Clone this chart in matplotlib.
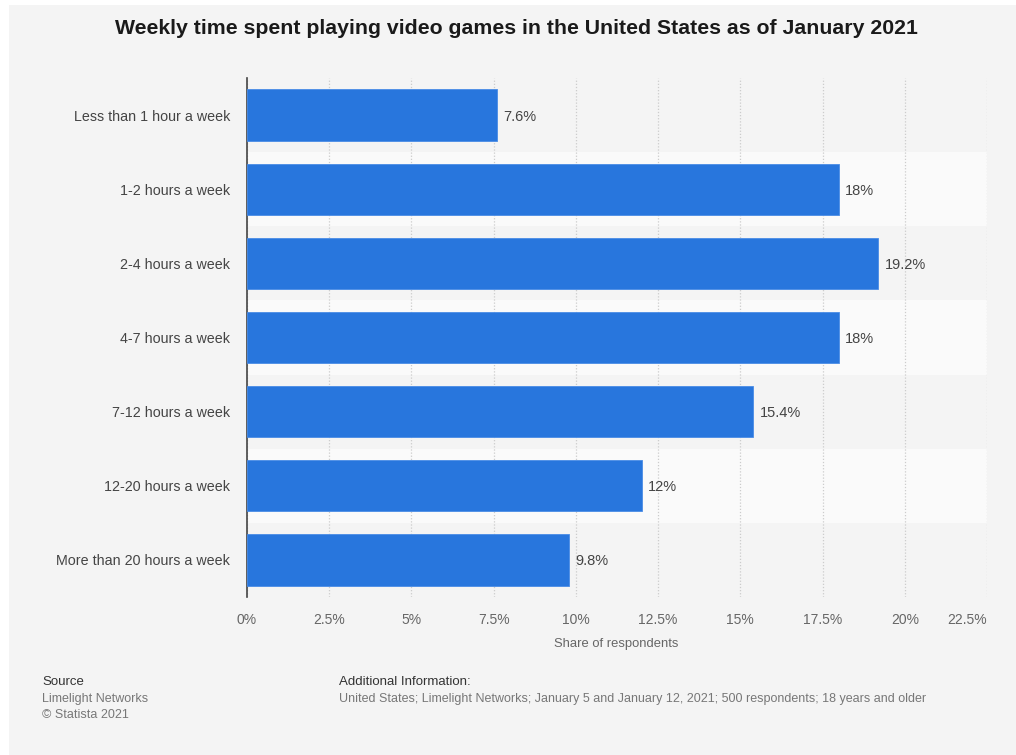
import matplotlib.pyplot as plt
from matplotlib.patches import Rectangle

# weekly hours spent gaming, share of respondents in %
categories = ["Less than 1 hour a week", "1-2 hours a week", "2-4 hours a week",
              "4-7 hours a week", "7-12 hours a week", "12-20 hours a week",
              "More than 20 hours a week"]
shares = [7.6, 18, 19.2, 18, 15.4, 12, 9.8]
tick_values = [0, 2.5, 5, 7.5, 10, 12.5, 15, 17.5, 20, 22.5]
tick_labels = ["0%", "2.5%", "5%", "7.5%", "10%", "12.5%", "15%", "17.5%", "20%", "22.5%"]

plt.rcParams['font.family'] = ['Liberation Sans', 'DejaVu Sans']

W, H = 1016, 755
fig = plt.figure(figsize=(W / 100, H / 100), dpi=100)
fig.patch.set_facecolor("white")
fig.patches.append(Rectangle((9 / W, 0), 1 - 9 / W, 1 - 5 / H, transform=fig.transFigure,
                             facecolor="#f4f4f4", edgecolor="none", zorder=-10))

ax = fig.add_axes([247 / W, 1 - 597 / H, 740 / W, 519 / H])
ax.set_facecolor("none")

n = len(categories)
ypos = list(range(n))

# alternating light bands behind the rows
for i in ypos:
    if i % 2 == 1:
        ax.axhspan(i - 0.5, i + 0.5, color="#fafafa", zorder=0, lw=0)

ax.barh(ypos, shares, height=0.69, color="#2876dd", edgecolor="#4a8ce6", linewidth=0.6, zorder=3)

for y, v in zip(ypos, shares):
    ax.text(v + 0.18, y + 0.02, f"{v:g}%", va="center", ha="left", fontsize=10.5, color="#444444", zorder=4)

ax.set_xlim(0, 22.5)
ax.set_ylim(n - 0.5, -0.5)

ax.set_xticks(tick_values)
ax.set_xticklabels([])
ax.tick_params(axis="x", length=0)
ax.xaxis.grid(True, linestyle=(0, (1, 1.5)), color="#cccccc", linewidth=0.9, zorder=1)
ax.set_axisbelow(True)

for v, lab in zip(tick_values, tick_labels):
    ha = "right" if v == tick_values[-1] else "center"
    ax.text(v, -0.045, lab, transform=ax.get_xaxis_transform(), ha=ha, va="center",
            fontsize=10, color="#666666")

ax.set_yticks(ypos)
ax.set_yticklabels(categories, fontsize=10.3, color="#444444")
ax.tick_params(axis="y", length=0, pad=12)

for s in ["top", "right", "bottom"]:
    ax.spines[s].set_visible(False)
ax.spines["left"].set_color("#444444")
ax.spines["left"].set_linewidth(1.2)

fig.text(616 / W, 1 - 644 / H, "Share of respondents", ha="center", va="center",
         fontsize=9.4, color="#666666")

fig.text(516 / W, 1 - 28 / H, "Weekly time spent playing video games in the United States as of January 2021",
         ha="center", va="center", fontsize=15.3, fontweight="bold", color="#1a1a1a")

# footer
fig.text(42 / W, 1 - 682 / H, "Source", ha="left", va="center", fontsize=9.5, color="#333333")
fig.text(42 / W, 1 - 699 / H, "Limelight Networks", ha="left", va="center", fontsize=9, color="#777777")
fig.text(42 / W, 1 - 715 / H, "\u00a9 Statista 2021", ha="left", va="center", fontsize=9, color="#777777")
fig.text(339 / W, 1 - 682 / H, "Additional Information:", ha="left", va="center", fontsize=9.5, color="#333333")
fig.text(339 / W, 1 - 699 / H,
         "United States; Limelight Networks; January 5 and January 12, 2021; 500 respondents; 18 years and older",
         ha="left", va="center", fontsize=9, color="#777777")

fig.savefig("out.png", dpi=100, facecolor=fig.get_facecolor())
